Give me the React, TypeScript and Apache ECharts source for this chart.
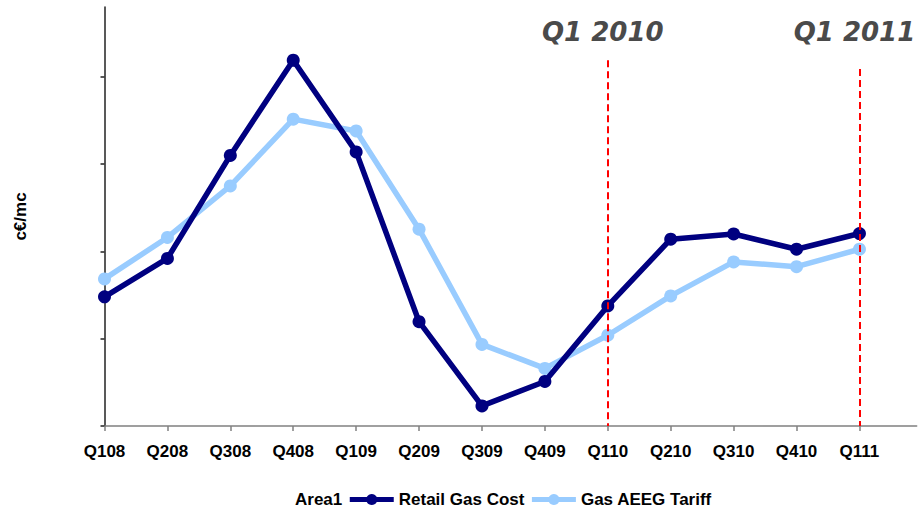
import React, { useEffect, useRef } from "react";
import * as echarts from "echarts";

const categories = ["Q108", "Q208", "Q308", "Q408", "Q109", "Q209", "Q309", "Q409", "Q110", "Q210", "Q310", "Q410", "Q111"];
const retailGasCost = [14.8, 19.2, 31.0, 41.9, 31.4, 11.95, 2.3, 5.1, 13.75, 21.4, 22.0, 20.25, 22.05];
const gasAeegTariff = [16.85, 21.6, 27.5, 35.15, 33.8, 22.55, 9.35, 6.6, 10.4, 14.9, 18.8, 18.25, 20.25];
const markerLines = [
  { index: 8, top: 41.9, label: "Q1 2010" },
  { index: 12, top: 40.9, label: "Q1 2011" },
];
const yTicks = [0, 10, 20, 30, 40];

export default function App() {
  const ref = useRef<HTMLDivElement>(null);
  useEffect(() => {
    if (!ref.current) return;
    const chart = echarts.init(ref.current, null, { renderer: "svg" });
    const idx = categories.map((_, i) => i);
    const font = "'Liberation Sans', Arial, sans-serif";
    chart.setOption({
      animation: false,
      grid: { left: 104.5, right: 2.3, top: 7, bottom: 93 },
      xAxis: {
        type: "value",
        min: 0,
        max: 12.91,
        interval: 1,
        splitLine: { show: false },
        axisLine: { show: true, lineStyle: { color: "#808080", width: 1.5 } },
        axisTick: { show: true, customValues: idx, length: 5, lineStyle: { color: "#808080", width: 1.5 } },
        axisLabel: {
          customValues: idx,
          formatter: (v: number) => categories[Math.round(v)] ?? "",
          color: "#000",
          fontFamily: font,
          fontWeight: "bold",
          fontSize: 17,
          margin: 17,
        },
      },
      yAxis: {
        type: "value",
        min: 0,
        max: 48,
        interval: 10,
        name: "c€/mc",
        nameLocation: "middle",
        nameRotate: 90,
        nameGap: 76,
        nameTextStyle: { color: "#000", fontFamily: font, fontWeight: "bold", fontSize: 17 },
        splitLine: { show: false },
        axisLine: { show: true, lineStyle: { color: "#222", width: 1.5 } },
        axisTick: { show: true, customValues: yTicks, length: 4, lineStyle: { color: "#222", width: 1.5 } },
        axisLabel: { show: false },
      },
      legend: {
        left: 241,
        top: 486,
        itemWidth: 44,
        itemHeight: 14,
        itemGap: 5,
        lineStyle: { width: 5 },
        textStyle: { color: "#000", fontFamily: font, fontWeight: "bold", fontSize: 17 },
        data: [
          { name: "Area1", icon: "none" },
          { name: "Retail Gas Cost" },
          { name: "Gas AEEG Tariff" },
        ],
      },
      series: [
        { name: "Area1", type: "line", data: [] },
        {
          name: "Gas AEEG Tariff",
          type: "line",
          data: gasAeegTariff.map((v, i) => [i, v]),
          color: "#99ccff",
          symbol: "circle",
          symbolSize: 13,
          lineStyle: { width: 5.5, color: "#99ccff" },
          itemStyle: { color: "#99ccff" },
          z: 2,
        },
        {
          name: "Retail Gas Cost",
          type: "line",
          data: retailGasCost.map((v, i) => [i, v]),
          color: "#000080",
          symbol: "circle",
          symbolSize: 13,
          lineStyle: { width: 5.5, color: "#000080" },
          itemStyle: { color: "#000080" },
          z: 3,
          markLine: {
            silent: true,
            symbol: "none",
            label: { show: false },
            lineStyle: { color: "#ff0000", type: [7, 4], width: 2 },
            data: markerLines.map((m) => [
              { coord: [m.index, m.top] },
              { coord: [m.index, 0] },
            ]),
            z: 5,
          },
        },
      ],
    });
    const els = markerLines.map((m) => {
      const [px] = chart.convertToPixel({ gridIndex: 0 }, [m.index, 0]);
      return {
        type: "text",
        x: px - 5,
        y: 31.5,
        style: {
          text: m.label,
          align: "center",
          verticalAlign: "middle",
          fill: "#4a4a4a",
          font: "italic bold 26px 'DejaVu Sans', Verdana, sans-serif",
        },
      };
    });
    chart.setOption({ graphic: els });
    return () => chart.dispose();
  }, []);
  return <div ref={ref} style={{ width: 919, height: 519, position: "absolute", left: 0, top: 0 }} />;
}
